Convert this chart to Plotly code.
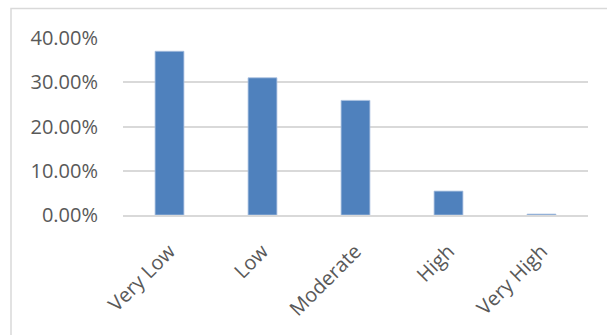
import plotly.graph_objects as go

# Share of observations in each rating class
categories = ["Very Low", "Low", "Moderate", "High", "Very High"]
shares = [0.370, 0.310, 0.259, 0.054, 0.002]
tick_values = [0.0, 0.1, 0.2, 0.3, 0.4]
tick_labels = ["0.00%", "10.00%", "20.00%", "30.00%", "40.00%"]

W, H = 607, 335
ML, MR, MT, MB = 123, 19, 38, 120
plot_w = W - ML - MR
plot_h = H - MT - MB

text_color = "#595959"
grid_color = "#d9d9d9"
font_family = "Open Sans, DejaVu Sans, sans-serif"

fig = go.Figure(
    go.Bar(
        x=categories,
        y=shares,
        marker=dict(color="#4f81bd", line=dict(color="#a9c0e0", width=0.8)),
        hoverinfo="x+y",
    )
)

# Light frame around the chart area
fig.add_shape(
    type="rect",
    xref="paper", yref="paper",
    x0=(11 - ML) / plot_w, x1=(W + 20 - ML) / plot_w,
    y0=-(H - MT) / plot_h - 0.2, y1=(MT + plot_h - 8.5) / plot_h,
    line=dict(color=grid_color, width=1.5),
    fillcolor="rgba(0,0,0,0)",
    layer="below",
)

fig.update_layout(
    width=W, height=H,
    margin=dict(l=ML, r=MR, t=MT, b=MB),
    paper_bgcolor="white",
    plot_bgcolor="white",
    bargap=0.69,
    showlegend=False,
    font=dict(family=font_family, color=text_color, size=18),
    xaxis=dict(
        tickangle=-45,
        showgrid=False,
        showline=True,
        linecolor=grid_color,
        linewidth=1.5,
        ticks="outside",
        ticklen=15,
        tickcolor="rgba(0,0,0,0)",
        tickfont=dict(size=20, color=text_color),
    ),
    yaxis=dict(
        range=[0, 0.4],
        tickvals=tick_values,
        ticktext=tick_labels,
        showgrid=True,
        gridcolor=grid_color,
        gridwidth=1.5,
        zeroline=False,
        showline=False,
        ticks="outside",
        ticklen=20,
        tickcolor="rgba(0,0,0,0)",
        tickfont=dict(size=20, color=text_color),
    ),
)

fig.write_html("out.html")
